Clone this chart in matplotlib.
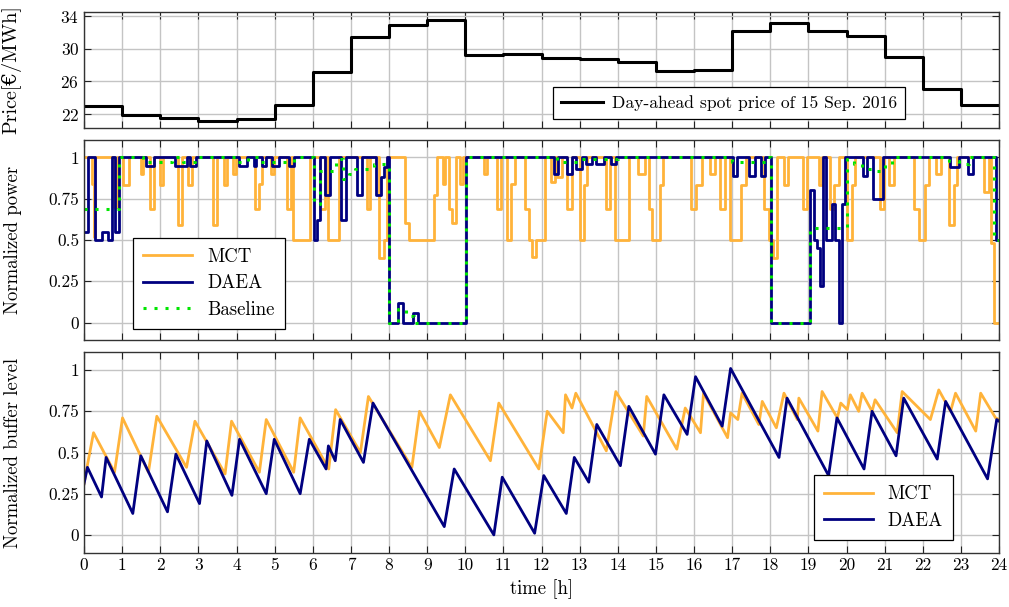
import matplotlib
matplotlib.use('Agg')
import matplotlib.pyplot as plt
import numpy as np

plt.rcParams['font.family'] = ['cmr10', 'DejaVu Serif']
plt.rcParams['mathtext.fontset'] = 'cm'
plt.rcParams['axes.formatter.use_mathtext'] = True

# ---------------- data ----------------
hours = list(range(25))
hour_labels = [str(h) for h in hours]

price_hours = list(range(24))
price = [23.0, 21.95, 21.5, 21.2, 21.45, 23.1, 27.1, 31.4, 32.95, 33.5, 29.2, 29.3,
         28.9, 28.8, 28.4, 27.3, 27.4, 32.2, 33.1, 32.2, 31.6, 29.0, 25.1, 23.1]
price_ticks = [22, 26, 30, 34]

# normalized power: change points (time [h], value)
mct_t = [0.00, 0.21, 0.25, 0.29, 0.78, 0.86, 1.03, 1.19, 1.50, 1.56, 1.73, 1.84, 1.99, 2.08,
         2.47, 2.56, 2.74, 2.83, 3.39, 3.50, 3.66, 3.74, 3.90, 3.99, 4.49, 4.58, 4.66, 4.90,
         4.99, 5.32, 5.42, 5.49, 5.93, 6.19, 6.33, 6.41, 6.70, 7.42, 7.51, 7.74, 7.86, 7.95,
         8.43, 8.52, 9.18, 9.26, 9.41, 9.48, 9.57, 9.66, 9.76, 9.85, 9.93, 10.50, 10.58,
         10.84, 10.94, 11.10, 11.20, 11.30, 11.58, 11.68, 11.76, 11.85, 12.10, 12.24, 12.36,
         12.41, 12.53, 12.68, 12.79, 13.00, 13.11, 13.20, 13.68, 13.80, 13.93, 14.30, 14.54,
         14.71, 14.82, 14.91, 15.12, 15.19, 15.91, 16.04, 16.20, 16.42, 16.55, 16.69, 16.80,
         16.94, 17.24, 17.37, 17.84, 17.96, 18.07, 18.19, 18.35, 18.46, 18.86, 18.97, 19.28,
         19.37, 19.58, 19.67, 19.80, 20.00, 20.14, 20.23, 20.89, 20.98, 21.11, 21.24, 21.77,
         21.90, 22.07, 22.16, 22.36, 22.49, 22.68, 22.82, 22.89, 23.60, 23.74, 23.78, 23.87]
mct_v = [1.00, 0.84, 0.52, 1.00, 0.70, 1.00, 0.83, 1.00, 0.90, 1.00, 0.69, 1.00, 0.83, 1.00,
         0.59, 1.00, 0.83, 1.00, 0.59, 1.00, 0.83, 1.00, 0.90, 1.00, 0.69, 0.84, 1.00, 0.90,
         1.00, 0.69, 1.00, 0.50, 1.00, 0.69, 1.00, 0.50, 1.00, 0.69, 1.00, 0.39, 0.50, 1.00,
         0.60, 0.50, 0.77, 1.00, 0.84, 1.00, 0.69, 0.60, 1.00, 0.84, 1.00, 0.90, 1.00,
         0.69, 1.00, 0.50, 0.84, 1.00, 0.69, 0.50, 0.40, 0.50, 1.00, 0.85, 1.00,
         0.88, 1.00, 0.69, 1.00, 0.50, 0.83, 1.00, 0.69, 1.00, 0.50, 1.00, 0.90,
         1.00, 0.69, 0.50, 0.83, 1.00, 0.69, 0.83, 1.00, 0.90, 1.00, 0.69, 1.00,
         0.50, 0.83, 1.00, 0.69, 0.50, 0.39, 1.00, 0.83, 1.00, 0.69, 1.00, 0.83,
         1.00, 0.69, 0.83, 1.00, 0.50, 0.83, 1.00, 0.69, 1.00, 0.83, 1.00, 0.69,
         0.50, 0.83, 1.00, 0.90, 1.00, 0.59, 0.83, 1.00, 0.79, 1.00, 0.48, 0.00]

daea_t = [0.00, 0.11, 0.29, 0.46, 0.64, 0.73, 0.81, 0.92, 1.63, 1.84, 2.38, 2.70, 2.79, 2.93,
          4.06, 4.28, 4.45, 4.52, 4.67, 4.78, 4.92, 5.12, 5.38, 5.52, 6.02, 6.10, 6.18, 6.33,
          6.44, 6.75, 6.86, 7.16, 7.28, 7.66, 7.78, 7.87, 7.94, 8.00, 8.24, 8.36, 8.62, 8.76,
          10.02, 12.33, 12.44, 12.68, 12.81, 12.90, 13.05, 13.16, 13.32, 13.42, 13.64, 13.81,
          13.96, 17.02, 17.13, 17.43, 17.61, 17.76, 17.87, 18.03, 19.05, 19.14, 19.23, 19.30,
          19.39, 19.45, 19.62, 19.71, 19.80, 19.89, 19.97, 20.44, 20.54, 20.70, 20.97, 22.71,
          22.95, 23.18, 23.32, 23.91]
daea_v = [0.55, 1.00, 0.50, 0.55, 0.50, 1.00, 0.55, 1.00, 0.95, 1.00, 0.95, 1.00, 0.95, 1.00,
          0.95, 1.00, 0.95, 1.00, 0.95, 1.00, 0.95, 1.00, 0.95, 1.00, 0.50, 0.62, 1.00, 0.77,
          1.00, 0.62, 1.00, 0.77, 1.00, 0.77, 0.88, 0.94, 1.00, 0.00, 0.12, 0.00, 0.06, 0.00,
          1.00, 0.90, 1.00, 0.90, 1.00, 0.93, 1.00, 0.96, 1.00, 0.96, 1.00, 0.96,
          1.00, 0.89, 1.00, 0.89, 1.00, 0.89, 1.00, 0.00, 0.80, 0.50, 0.45, 0.22,
          1.00, 0.50, 0.72, 0.50, 0.00, 0.72, 1.00, 0.89, 1.00, 0.75, 1.00, 0.94,
          1.00, 0.90, 1.00, 0.50]

base_t = [0.00, 0.92, 1.55, 2.30, 2.60, 2.90, 4.00, 4.30, 4.60, 5.50, 6.02, 6.20, 6.60, 6.80,
          6.95, 7.10, 7.60, 8.00, 8.24, 8.45, 8.65, 10.02, 12.40, 13.00, 14.00, 17.00, 17.95,
          18.03, 19.05, 20.00, 20.20, 20.40, 20.70, 21.00, 21.20, 22.70, 22.95, 23.20, 23.86]
base_v = [0.69, 1.00, 0.97, 1.00, 0.97, 1.00, 0.97, 1.00, 0.97, 1.00, 0.72, 0.92, 0.99, 0.87,
          0.90, 0.93, 0.96, 0.00, 0.08, 0.04, 0.00, 1.00, 0.97, 0.99, 1.00, 0.97, 1.00,
          0.00, 0.57, 0.99, 0.96, 0.93, 0.92, 0.96, 1.00, 0.98, 0.96, 1.00, 0.50]

power_ticks = [0, 0.25, 0.5, 0.75, 1]
power_labels = ['0', '0.25', '0.5', '0.75', '1']

# normalized buffer level: vertices (time [h], level)
buf_daea_t = [0.00, 0.09, 0.46, 0.58, 1.28, 1.49, 2.19, 2.41, 3.03, 3.22, 3.88, 4.08, 4.78,
              4.99, 5.67, 5.91, 6.35, 6.41, 6.59, 6.72, 7.33, 7.58, 9.45, 9.71, 10.75, 10.97,
              11.82, 12.06, 12.65, 12.86, 13.24, 13.45, 14.07, 14.29, 14.99, 15.21, 15.82,
              16.04, 16.74, 16.96, 18.23, 18.44, 19.53, 19.75, 20.46, 20.67, 21.30, 21.50,
              22.38, 22.60, 23.70, 23.94, 24.00]
buf_daea_v = [0.31, 0.41, 0.23, 0.47, 0.13, 0.48, 0.14, 0.49, 0.19, 0.57, 0.24, 0.58, 0.25,
              0.58, 0.25, 0.58, 0.40, 0.54, 0.45, 0.70, 0.44, 0.80, 0.05, 0.40, 0.00, 0.35,
              0.01, 0.36, 0.13, 0.47, 0.32, 0.67, 0.42, 0.78, 0.49, 0.85, 0.61,
              0.96, 0.66, 1.01, 0.47, 0.83, 0.36, 0.71, 0.40, 0.75, 0.48, 0.83,
              0.46, 0.81, 0.34, 0.70, 0.69]

buf_mct_t = [0.00, 0.07, 0.25, 0.80, 1.01, 1.69, 1.91, 2.69, 2.91, 3.70, 3.87, 4.60, 4.78,
             5.50, 5.67, 6.42, 6.60, 7.25, 7.46, 8.60, 8.80, 9.32, 9.61, 10.66, 10.88, 11.93,
             12.15, 12.57, 12.63, 12.80, 12.90, 13.70, 13.95, 14.67, 14.76, 15.55, 15.77,
             16.17, 16.25, 16.88, 16.96, 17.15, 17.26, 17.70, 17.79, 18.16, 18.36, 18.71,
             18.75, 19.25, 19.36, 19.76, 19.85, 20.02, 20.10, 20.32, 20.41, 20.67, 20.75,
             21.33, 21.46, 22.20, 22.42, 22.73, 22.86, 23.39, 23.52, 23.91, 24.00]
buf_mct_v = [0.31, 0.40, 0.62, 0.38, 0.71, 0.38, 0.72, 0.41, 0.69, 0.37, 0.69, 0.38, 0.70,
             0.38, 0.71, 0.40, 0.76, 0.50, 0.84, 0.41, 0.75, 0.53, 0.85, 0.45, 0.80, 0.40,
             0.75, 0.62, 0.85, 0.77, 0.86, 0.51, 0.87, 0.60, 0.84, 0.52, 0.77,
             0.62, 0.86, 0.59, 0.74, 0.70, 0.86, 0.67, 0.81, 0.65, 0.86, 0.70,
             0.83, 0.63, 0.87, 0.71, 0.80, 0.76, 0.85, 0.75, 0.86, 0.75, 0.82,
             0.62, 0.87, 0.70, 0.88, 0.75, 0.86, 0.63, 0.86, 0.71, 0.70]

buffer_ticks = [0, 0.25, 0.5, 0.75, 1]
buffer_labels = ['0', '0.25', '0.5', '0.75', '1']

# ---------------- style ----------------
C_MCT = '#FFB33A'
C_DAEA = '#000080'
C_BASE = '#00E600'
GRID = '#c4c4c4'

W, H = 1009, 607
fig = plt.figure(figsize=(W / 100, H / 100), dpi=100)

def box(l, t, r, b):
    return [l / W, 1 - b / H, (r - l) / W, (b - t) / H]

ax1 = fig.add_axes(box(84, 12, 999, 128))
ax2 = fig.add_axes(box(84, 140, 999, 340))
ax3 = fig.add_axes(box(84, 352, 999, 553))

def stepdata(t, v):
    return np.append(t, 24.0), np.append(v, v[-1])

for ax in (ax1, ax2, ax3):
    ax.set_xlim(0, 24)
    ax.set_xticks(hours)
    ax.grid(True, color=GRID, linewidth=1.0)
    ax.set_axisbelow(True)
    ax.tick_params(direction='in', top=True, right=True, length=5, width=0.8,
                   labelsize=12.5, color='#222222')
    for s in ax.spines.values():
        s.set_linewidth(1.0)
        s.set_color('#333333')

# top panel
x, y = stepdata(price_hours, price)
ax1.step(x, y, where='post', color='black', linewidth=2.2,
         label='Day-ahead spot price of 15 Sep. 2016')
ax1.set_ylim(20.3, 34.5)
ax1.set_yticks(price_ticks)
ax1.set_xticklabels([])
ax1.set_ylabel('Price[€/MWh]', fontsize=14.5)
leg1 = ax1.legend(loc='lower right', bbox_to_anchor=(0.897, 0.078), fontsize=12.6,
                  fancybox=False, framealpha=1, edgecolor='black', handlelength=2.4,
                  borderpad=0.45, borderaxespad=0, handletextpad=0.5)
leg1.get_frame().set_linewidth(0.9)

# middle panel
x, y = stepdata(mct_t, mct_v)
ax2.step(x, y, where='post', color=C_MCT, linewidth=2.0, label='MCT')
x, y = stepdata(daea_t, daea_v)
ax2.step(x, y, where='post', color=C_DAEA, linewidth=2.0, label='DAEA')
x, y = stepdata(base_t, base_v)
ax2.step(x, y, where='post', color=C_BASE, linewidth=2.2, linestyle=(0, (1, 2.6)),
         label='Baseline')
ax2.set_ylim(-0.105, 1.105)
ax2.set_yticks(power_ticks)
ax2.set_yticklabels(power_labels)
ax2.set_xticklabels([])
ax2.set_ylabel('Normalized power', fontsize=13.5)
leg2 = ax2.legend(loc='lower left', bbox_to_anchor=(0.0536, 0.055), fontsize=13.5,
                  fancybox=False, framealpha=1, edgecolor='black', handlelength=2.6,
                  borderpad=0.55, labelspacing=0.45, borderaxespad=0)
leg2.get_frame().set_linewidth(0.9)

# bottom panel
ax3.plot(buf_mct_t, buf_mct_v, color=C_MCT, linewidth=2.0, label='MCT')
ax3.plot(buf_daea_t, buf_daea_v, color=C_DAEA, linewidth=2.0, label='DAEA')
ax3.set_ylim(-0.11, 1.11)
ax3.set_yticks(buffer_ticks)
ax3.set_yticklabels(buffer_labels)
ax3.set_xticklabels(hour_labels)
ax3.set_ylabel('Normalized buffer level', fontsize=13.5)
ax3.set_xlabel('time [h]', fontsize=13.5)
leg3 = ax3.legend(loc='lower right', bbox_to_anchor=(0.95, 0.065), fontsize=13.5,
                  fancybox=False, framealpha=1, edgecolor='black', handlelength=2.6,
                  borderpad=0.55, labelspacing=0.45, borderaxespad=0)
leg3.get_frame().set_linewidth(0.9)

for ax in (ax1, ax2, ax3):
    ax.yaxis.set_label_coords(-0.068, 0.5)

fig.savefig('out.png', dpi=100)
